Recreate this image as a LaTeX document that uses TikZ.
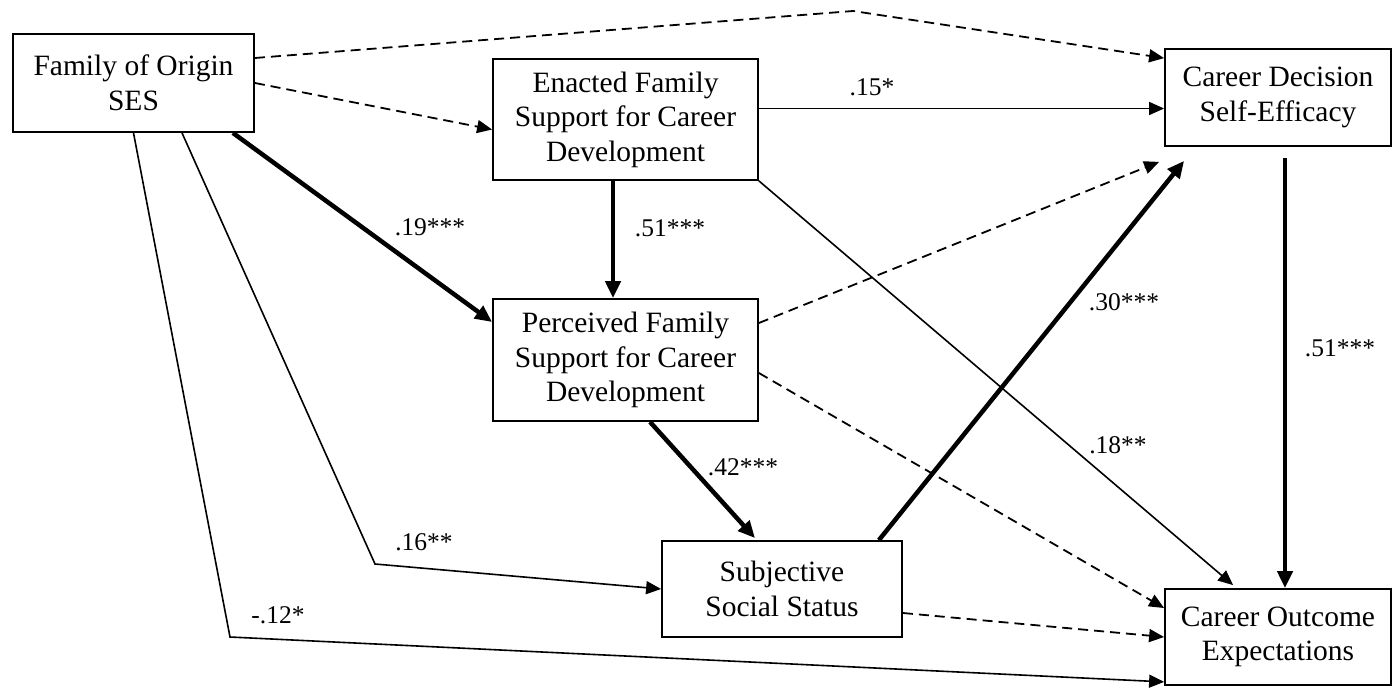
\documentclass[tikz,border=0pt]{standalone}
\usepackage{fontspec}
\setmainfont{Liberation Serif}
\usetikzlibrary{arrows.meta,calc}

\begin{document}
\begin{tikzpicture}
  [x=1pt,y=-1pt,
   var/.style={draw,line width=1.8pt,align=center,inner sep=0pt,
     font=\fontsize{29.5}{34.5}\selectfont},
   coef/.style={inner sep=0pt,font=\fontsize{25.5}{30}\selectfont},
   sig/.style={line width=1.6pt,-{Triangle[length=15pt,width=13pt]}},
   strong/.style={line width=4.5pt,-{Triangle[length=17pt,width=15pt]}},
   nonsig/.style={line width=1.8pt,dash pattern=on 10pt off 6pt,
     -{Triangle[length=15pt,width=13pt]}}]
  \useasboundingbox (0,0) rectangle (1393,688);

  % variables
  \node[var,minimum width=241pt,minimum height=98pt] (foo) at (133.5,83) {Family of Origin\\SES};
  \node[var,minimum width=265pt,minimum height=121pt] (enacted) at (625.5,119.5) {Enacted Family\\Support for Career\\Development};
  \node[var,minimum width=265pt,minimum height=122pt] (perceived) at (625.5,360) {Perceived Family\\Support for Career\\Development};
  \node[var,minimum width=226pt,minimum height=97pt] (cdse) at (1278,97.5) {Career Decision\\Self-Efficacy};
  \node[var,minimum width=240pt,minimum height=96pt] (subj) at (782,589) {Subjective\\Social Status};
  \node[var,minimum width=226pt,minimum height=96pt] (coe) at (1278,637) {Career Outcome\\Expectations};

  % bends
  \coordinate (peak) at (853,11);
  \coordinate (bend16) at (375,564);
  \coordinate (bend12) at (230,637);

  % ports
  \coordinate (foo-e) at ($(foo.east)+(0,-25)$);
  \coordinate (enacted-w) at ($(enacted.west)+(0,10)$);
  \coordinate (perceived-e1) at ($(perceived.east)+(0,-37)$);
  \coordinate (perceived-e2) at ($(perceived.east)+(0,13)$);
  \coordinate (subj-e) at ($(subj.east)+(0,24)$);
  \coordinate (cdse-nw) at ($(cdse.north west)+(0,10)$);
  \coordinate (cdse-sw) at ($(cdse.south west)+(-5,15)$);
  \coordinate (coe-w) at ($(coe.west)+(0,-29)$);

  \foreach \from/\to in {foo.east/enacted-w,perceived-e1/cdse-sw,
    perceived-e2/coe-w,subj-e/coe.west}
    \draw[nonsig] (\from) -- (\to);
  \draw[nonsig] (foo-e) -- (peak) -- (cdse-nw);

  \draw[sig] ($(enacted.east)+(0,-11)$) -- ($(cdse.west)+(0,11)$);
  \draw[sig] (enacted.south east) -- ($(coe.north west)+(69,-3)$);
  \draw[sig] ($(foo.south)+(48.5,0)$) -- (bend16) -- (subj.west);
  \draw[sig] (foo.south) -- (bend12) -- ($(coe.south west)+(0,-4)$);

  \draw[strong] ($(foo.south east)+(-22,0)$) -- ($(perceived.west)+(0,-38)$);
  \draw[strong] ($(enacted.south)+(-12.5,0)$) -- ($(perceived.north)+(-12.5,0)$);
  \draw[strong] ($(perceived.south)+(24.5,0)$) -- ($(subj.north)+(-27,-2)$);
  \draw[strong] ($(subj.north east)+(-24,0)$) -- ($(cdse.south west)+(20,14)$);
  \draw[strong] ($(cdse.south)+(7,11)$) -- ($(coe.north)+(7,0)$);

  % coefficients
  \node[coef] (l15) at (872,87) {.15*};
  \node[coef] (l51a) at (670,228) {.51***};
  \node[coef] (l19) at (430,227) {.19***};
  \node[coef] (l42) at (743,467) {.42***};
  \node[coef] (l30) at (1124,302) {.30***};
  \node[coef] (l18) at (1118,445) {.18**};
  \node[coef] (l51b) at (1340,348) {.51***};
  \node[coef] (l16) at (424,542) {.16**};
  \node[coef] (l12) at (278,615) {-.12*};
\end{tikzpicture}
\end{document}
